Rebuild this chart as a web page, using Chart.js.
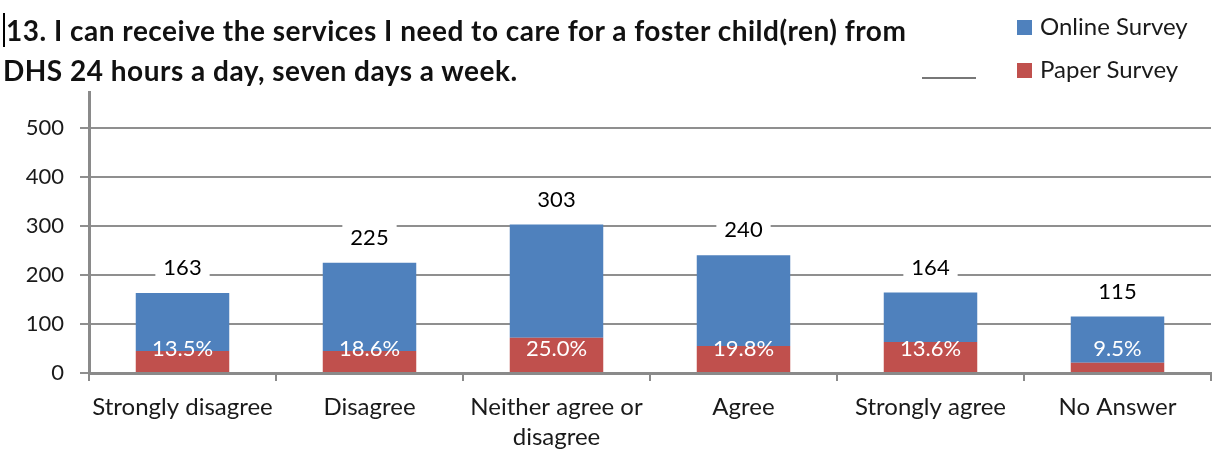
<!DOCTYPE html>
<html>
<head>
<meta charset="utf-8">
<script src="https://cdn.jsdelivr.net/npm/chart.js@4.4.1/dist/chart.umd.min.js"></script>
<style>
  html, body { margin: 0; padding: 0; background: #fff; }
  #wrap { position: relative; width: 1215px; height: 466px; font-family: Lato, 'Open Sans', sans-serif; }
  #title { position: absolute; left: 3px; top: 10px; font-weight: bold; font-size: 28px; letter-spacing: 0.5px; line-height: 40px; color: #111; white-space: nowrap; }
  #title .caret { border-left: 2px solid #000; padding-left: 1px; }
  #legend { position: absolute; left: 1017px; top: 4px; font-size: 24px; line-height: 43px; color: #1a1a1a; white-space: nowrap; }
  #legend .sw { display: inline-block; width: 15px; height: 15px; margin-right: 8px; }
  #dash { position: absolute; left: 922px; top: 77px; width: 54px; height: 2px; background: #777; }
</style>
</head>
<body>
<div id="wrap">
  <canvas id="chart" width="1215" height="466"></canvas>
  <div id="title"><span class="caret">13. I can receive the services I need to care for a foster child(ren) from</span><br>DHS 24 hours a day, seven days a week.</div>
  <div id="dash"></div>
  <div id="legend">
    <div><span class="sw" style="background:#4f81bd"></span>Online Survey</div>
    <div><span class="sw" style="background:#c0504d"></span>Paper Survey</div>
  </div>
</div>
<script>
const categories = ['Strongly disagree', 'Disagree', ['Neither agree or', 'disagree'], 'Agree', 'Strongly agree', 'No Answer'];
const paperSurvey = [45, 45, 72, 55, 63, 21];
const onlineSurvey = [118, 180, 231, 185, 101, 94];
const totals = [163, 225, 303, 240, 164, 115];
const percentLabels = ['13.5%', '18.6%', '25.0%', '19.8%', '13.6%', '9.5%'];
const yTicks = [0, 100, 200, 300, 400, 500];

const FONT = 'Lato, "Open Sans", sans-serif';

const labelPlugin = {
  id: 'barLabels',
  afterDatasetsDraw(chart) {
    const ctx = chart.ctx;
    const top = chart.getDatasetMeta(1);
    const yScale = chart.scales.y;
    ctx.save();
    ctx.font = '22px ' + FONT;
    ctx.textAlign = 'center';
    ctx.textBaseline = 'middle';
    top.data.forEach((bar, i) => {
      const txt = String(totals[i]);
      const w = ctx.measureText(txt).width + 16;
      const y = bar.y - 25;
      ctx.fillStyle = '#fff';
      ctx.fillRect(bar.x - w / 2, y - 13, w, 26);
      ctx.fillStyle = '#000';
      ctx.fillText(txt, bar.x, y);
    });
    ctx.font = '22px ' + FONT;
    ctx.fillStyle = '#fff';
    top.data.forEach((bar, i) => {
      ctx.fillText(percentLabels[i], bar.x, yScale.getPixelForValue(0) - 24);
    });
    ctx.restore();
  }
};

new Chart(document.getElementById('chart'), {
  type: 'bar',
  data: {
    labels: categories,
    datasets: [
      { label: 'Paper Survey', data: paperSurvey, backgroundColor: '#c0504d', barPercentage: 0.5, categoryPercentage: 1 },
      { label: 'Online Survey', data: onlineSurvey, backgroundColor: '#4f81bd', barPercentage: 0.5, categoryPercentage: 1 }
    ]
  },
  options: {
    responsive: false,
    animation: false,
    layout: { padding: { top: 92, right: 4, left: 0, bottom: 0 } },
    plugins: {
      legend: { display: false },
      tooltip: { enabled: false }
    },
    scales: {
      x: {
        stacked: true,
        grid: { offset: true, drawOnChartArea: false, tickLength: 8, color: '#8a8a8a', lineWidth: 2 },
        border: { color: '#8a8a8a', width: 3 },
        ticks: { color: '#1a1a1a', font: { family: FONT, size: 24, lineHeight: 1.25 }, padding: 11, maxRotation: 0, autoSkip: false },
        afterFit: s => { s.height = 93; }
      },
      y: {
        stacked: true,
        min: 0,
        max: 573,
        afterBuildTicks: axis => { axis.ticks = yTicks.map(v => ({ value: v })); },
        grid: { color: '#8f8f8f', lineWidth: 2, tickLength: 9 },
        border: { color: '#8a8a8a', width: 3 },
        ticks: { color: '#1a1a1a', font: { family: FONT, size: 22 }, padding: 16 },
        afterFit: s => { s.width = 89; }
      }
    }
  },
  plugins: [labelPlugin]
});
</script>
</body>
</html>
